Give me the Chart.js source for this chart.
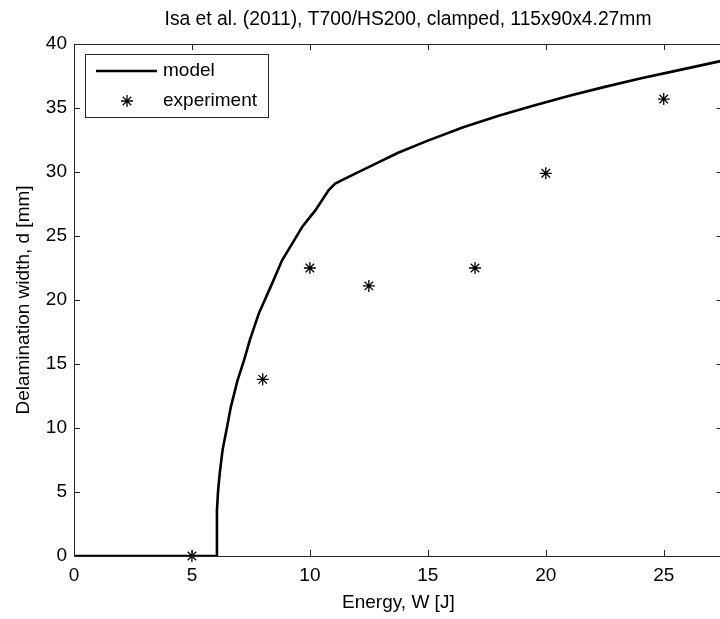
<!DOCTYPE html>
<html>
<head>
<meta charset="utf-8">
<script src="https://cdn.jsdelivr.net/npm/chart.js@4/dist/chart.umd.min.js"></script>
<style>
  html, body { margin: 0; padding: 0; background: #fff; overflow: hidden; width: 720px; height: 619px; }
  canvas { position: absolute; left: 0; top: 0; }
</style>
</head>
<body>
<canvas id="c" width="730" height="619"></canvas>
<script>
// Model prediction: delamination width vs impact energy
const modelW = [0, 6.0, 6.02, 6.06, 6.11, 6.18, 6.3, 6.46, 6.65, 6.93, 7.21, 7.46, 7.84, 8.4, 8.82, 9.25, 9.67, 10.23, 10.79, 11.07, 11.92, 12.62, 13.74, 15.0, 16.5, 18.0, 19.5, 21.0, 22.5, 24.0, 25.5, 27.5];
const modelD = [0, 0, 0, 3.6, 5.15, 6.5, 8.3, 9.8, 11.65, 13.7, 15.3, 16.9, 18.97, 21.3, 23.1, 24.4, 25.7, 27.0, 28.57, 29.1, 29.87, 30.5, 31.5, 32.45, 33.5, 34.4, 35.2, 35.95, 36.65, 37.3, 37.9, 38.7];

// Measured delamination widths
const expW = [5, 8, 10, 12.5, 17, 20, 25];
const expD = [0, 13.8, 22.5, 21.1, 22.5, 29.9, 35.7];

// Axis ticks
const xTicks = [0, 5, 10, 15, 20, 25];
const yTicks = [0, 5, 10, 15, 20, 25, 30, 35, 40];

const TITLE = 'Isa et al. (2011), T700/HS200, clamped, 115x90x4.27mm';
const FONT = '"Liberation Sans", Arial, sans-serif';
const INK = '#000';
const FRAME = '#262626';

// Plot title above the axes
const titlePlugin = {
  id: 'plotTitle',
  afterDraw(chart) {
    const { ctx } = chart;
    ctx.save();
    ctx.fillStyle = INK;
    ctx.font = '19.3px ' + FONT;
    ctx.textAlign = 'center';
    ctx.textBaseline = 'middle';
    ctx.fillText(TITLE, 408, 20);
    ctx.restore();
  }
};

// Box around the axes with inward tick marks on all four sides
const framePlugin = {
  id: 'frame',
  afterDatasetsDraw(chart) {
    const { ctx, chartArea: a, scales: { x, y } } = chart;
    const tl = 6;
    ctx.save();
    ctx.strokeStyle = FRAME;
    ctx.lineWidth = 1;
    ctx.beginPath();
    ctx.rect(Math.round(a.left) + 0.5, Math.round(a.top) + 0.5,
             Math.round(a.right) - Math.round(a.left), Math.round(a.bottom) - Math.round(a.top));
    x.ticks.forEach(t => {
      const px = Math.round(x.getPixelForValue(t.value)) + 0.5;
      ctx.moveTo(px, a.bottom); ctx.lineTo(px, a.bottom - tl);
      ctx.moveTo(px, a.top); ctx.lineTo(px, a.top + tl);
    });
    y.ticks.forEach(t => {
      const py = Math.round(y.getPixelForValue(t.value)) + 0.5;
      ctx.moveTo(a.left, py); ctx.lineTo(a.left + tl, py);
      ctx.moveTo(a.right, py); ctx.lineTo(a.right - tl, py);
    });
    ctx.stroke();
    ctx.restore();
  }
};

// Boxed legend in the upper-left corner of the axes
const boxLegend = {
  id: 'boxLegend',
  afterDraw(chart) {
    const { ctx, chartArea: a } = chart;
    const ds = chart.data.datasets;
    const bx = a.left + 11, by = a.top + 10, bw = 183, bh = 63;
    ctx.save();
    ctx.fillStyle = '#fff';
    ctx.fillRect(bx, by, bw, bh);
    ctx.strokeStyle = FRAME;
    ctx.lineWidth = 1;
    ctx.strokeRect(bx + 0.5, by + 0.5, bw, bh);

    const row1 = by + 17, row2 = by + 47;
    ctx.strokeStyle = ds[0].borderColor;
    ctx.lineWidth = ds[0].borderWidth;
    ctx.beginPath();
    ctx.moveTo(bx + 11, row1); ctx.lineTo(bx + 72, row1);
    ctx.stroke();

    ctx.strokeStyle = ds[1].borderColor;
    ctx.lineWidth = 1.3;
    ctx.beginPath();
    const cx = bx + 42, r = ds[1].pointRadius, d = Math.cos(Math.PI / 4) * r;
    ctx.moveTo(cx - r, row2); ctx.lineTo(cx + r, row2);
    ctx.moveTo(cx, row2 - r); ctx.lineTo(cx, row2 + r);
    ctx.moveTo(cx - d, row2 - d); ctx.lineTo(cx + d, row2 + d);
    ctx.moveTo(cx - d, row2 + d); ctx.lineTo(cx + d, row2 - d);
    ctx.stroke();

    ctx.fillStyle = INK;
    ctx.font = '19px ' + FONT;
    ctx.textBaseline = 'middle';
    ctx.textAlign = 'left';
    ctx.fillText(ds[0].label, bx + 78, row1);
    ctx.fillText(ds[1].label, bx + 78, row2);
    ctx.restore();
  }
};

new Chart(document.getElementById('c'), {
  type: 'scatter',
  data: {
    datasets: [
      {
        label: 'model',
        data: modelW.map((w, i) => ({ x: w, y: modelD[i] })),
        showLine: true,
        borderColor: '#000',
        backgroundColor: '#000',
        borderWidth: 2.6,
        pointRadius: 0,
        tension: 0
      },
      {
        label: 'experiment',
        data: expW.map((w, i) => ({ x: w, y: expD[i] })),
        showLine: false,
        pointStyle: 'star',
        pointRadius: 6,
        borderWidth: 1.3,
        borderColor: '#000',
        backgroundColor: '#000',
        clip: false
      }
    ]
  },
  options: {
    responsive: false,
    animation: false,
    events: [],
    layout: { padding: { left: 0, right: 5, top: 44, bottom: 0 } },
    plugins: {
      legend: { display: false },
      tooltip: { enabled: false },
      title: { display: false }
    },
    scales: {
      x: {
        type: 'linear',
        min: 0, max: 27.5,
        afterBuildTicks: s => { s.ticks = xTicks.map(v => ({ value: v })); },
        afterFit: s => { s.height = 63; },
        grid: { drawOnChartArea: false, drawTicks: false },
        border: { display: false },
        ticks: { color: INK, font: { family: FONT, size: 19 }, padding: 8, maxRotation: 0 },
        title: {
          display: true, text: 'Energy, W [J]', color: INK,
          font: { family: FONT, size: 19 }, padding: { top: 0, bottom: 4.6 }
        }
      },
      y: {
        type: 'linear',
        min: 0, max: 40,
        afterBuildTicks: s => { s.ticks = yTicks.map(v => ({ value: v })); },
        afterFit: s => { s.width = 74; },
        grid: { drawOnChartArea: false, drawTicks: false },
        border: { display: false },
        ticks: { color: INK, font: { family: FONT, size: 19 }, padding: 7 },
        title: {
          display: true, text: 'Delamination width, d [mm]', color: INK,
          font: { family: FONT, size: 19 }, padding: { top: 12, bottom: 0 }
        }
      }
    }
  },
  plugins: [framePlugin, boxLegend, titlePlugin]
});
</script>
</body>
</html>
